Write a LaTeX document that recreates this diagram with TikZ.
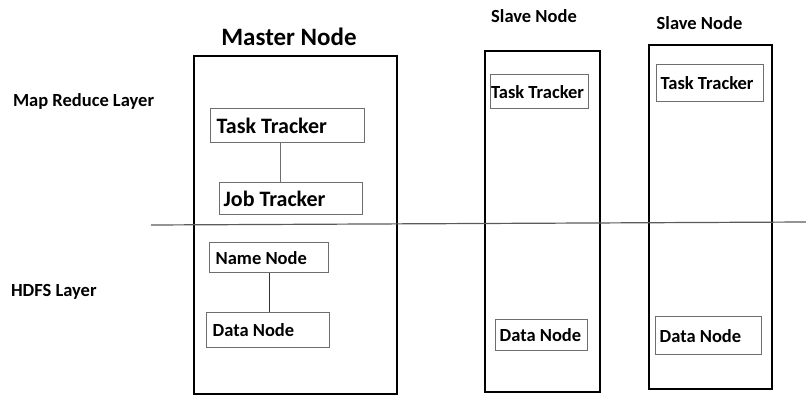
\documentclass[tikz,border=0pt]{standalone}
\usepackage{fontspec}
\setmainfont{Carlito}
\usepackage{xcolor}
\usepackage{tikz}
\usetikzlibrary{positioning}
\definecolor{boxgray}{RGB}{110,110,110}
\definecolor{splitgray}{RGB}{90,90,90}
\newcommand{\fs}[1]{\fontsize{#1}{#1}\selectfont}

\begin{document}
\begin{tikzpicture}[x=1pt, y=-1pt,
    host/.style={draw=black, line width=2.4pt, anchor=north west},
    unit/.style={draw=boxgray, line width=1.3pt, anchor=north west,
                 align=flush left, inner xsep=6pt, inner ysep=0pt, font=\bfseries\fs{18.5}},
    link/.style={draw=boxgray, line width=1.2pt}]
  \useasboundingbox (0,0) rectangle (806,396);

  % Hosts
  \node[host, minimum width=203, minimum height=338] (master) at (193,55) {};
  \node[host, minimum width=115, minimum height=341] (slaveA) at (484,50) {};
  \node[host, minimum width=123, minimum height=344] (slaveB) at (648,44) {};

  % Titles
  \node[font=\bfseries\fs{25}] (mastertitle) at (289,37) {Master Node};
  \node[font=\bfseries\fs{18.5}] (slaveAtitle) at (534,16) {Slave Node};
  \node[font=\bfseries\fs{18.5}] (slaveBtitle) at (699.5,23) {Slave Node};

  % Layers
  \node[anchor=west, font=\bfseries\fs{18.5}] (mrlayer) at (9.5,101) {Map Reduce Layer};
  \node[anchor=west, font=\bfseries\fs{18.5}] (hdfslayer) at (7.5,292) {HDFS Layer};
  \coordinate (split west) at (151,225);
  \coordinate (split east) at (806,222);
  \draw[splitgray, line width=1.2pt] (split west) -- (split east);

  % Master daemons
  \node[unit, font=\bfseries\fs{22}, text width=142, minimum height=34] (mtask) at (210,108) {Task Tracker};
  \node[unit, font=\bfseries\fs{22}, inner xsep=4pt, text width=135, minimum height=32] (mjob) at (219,182) {Job Tracker};
  \node[unit, text width=107, minimum height=30] (mname) at (209,242) {Name Node};
  \node[unit, text width=111, minimum height=35] (mdata) at (206,312) {Data Node};

  % Slave daemons
  \node[unit, inner xsep=0.5pt, text width=97, minimum height=34] (staskA) at (490,74) {Task Tracker};
  \node[unit, inner xsep=4pt, text width=84, minimum height=31] (sdataA) at (495,319) {Data Node};
  \node[unit, inner xsep=4pt, text width=99, minimum height=37] (staskB) at (656,64) {Task Tracker};
  \node[unit, inner xsep=4pt, text width=98, minimum height=38] (sdataB) at (655,316) {Data Node};

  % Links
  \draw[link] ([xshift=-7]mtask.south) -- ([xshift=-7]mtask.south |- mjob.north);
  \draw[link, draw=black!80] (mname.south) -- (mname.south |- mdata.north);
\end{tikzpicture}
\end{document}
